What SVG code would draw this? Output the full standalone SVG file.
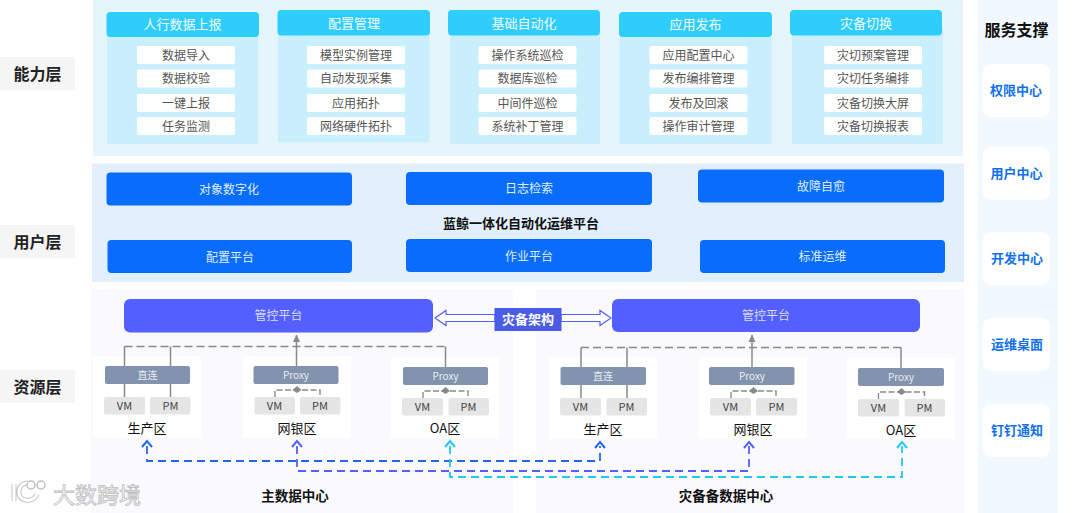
<svg xmlns="http://www.w3.org/2000/svg" width="1080" height="513" viewBox="0 0 1080 513">
<style>
text{font-family:"Noto Sans CJK SC","Noto Sans",sans-serif;text-anchor:middle;dominant-baseline:central;transform:translateY(-1px)}
.lab{fill:#f5f5f5}.labt{font-size:16px;font-weight:700;fill:#222}
.hd{fill:#2ecdfb}.hdt{font-size:13px;fill:#f4fcff}
.body{fill:#c8effb}.it{fill:#fff}.itt{font-size:12px;fill:#555}
.btn{fill:#0a6cfb}.btnt{font-size:12px;fill:#dfeeff}
.mg{fill:#5360ff}.mgt{font-size:12px;fill:#d8dcff}
.zone{fill:#fff}.bar{fill:#8193ad}.bart{font-size:10px;fill:#e8ecf2}
.vm{fill:#e5e5e5}.vmt{font-size:11px;fill:#444}.zt{font-size:13px;fill:#111}
.dc{font-size:13.5px;font-weight:700;fill:#111}
.card{fill:#fff}.ct{font-size:13px;font-weight:700;fill:#1070ee}
.g{fill:none;stroke:#8a8a8a;stroke-width:1.5}.gd{stroke-dasharray:8 4}.gs{fill:none;stroke:#8a8a8a;stroke-width:1.4;stroke-dasharray:6 2.500}
.d{fill:none;stroke-width:1.8;stroke-dasharray:8 5}
.ah{fill:none;stroke-width:2}
</style>
<defs>
<marker id="ga" markerWidth="8" markerHeight="8" refX="4" refY="0.500" orient="0" markerUnits="userSpaceOnUse"><path d="M0.500 7.500L4 0L7.500 7.500Z" fill="#8a8a8a"/></marker>
</defs>
<rect width="1080" height="513" fill="#fff"/>
<rect x="93" y="0" width="870" height="156" fill="#e4f6fc"/>
<rect x="92" y="163.500" width="872" height="118.500" fill="#e2effd"/>
<rect x="91" y="289" width="422" height="224" fill="#f9f9fe"/>
<rect x="536" y="289" width="428" height="224" fill="#f9f9fe"/>
<rect x="978" y="0" width="80" height="513" fill="#f1f8fe"/>

<g id="label-capability"><rect class="lab" x="0" y="57" width="75" height="33"/><text class="labt" x="37.500" y="73.500">能力层</text></g>
<g id="label-user"><rect class="lab" x="0" y="225" width="75" height="33"/><text class="labt" x="37.500" y="241.500">用户层</text></g>
<g id="label-resource"><rect class="lab" x="0" y="370" width="75" height="33"/><text class="labt" x="37.500" y="386.500">资源层</text></g>

<g id="col-report">
<rect class="body" x="107" y="30" width="151" height="114"/><rect class="hd" x="106.500" y="12" width="152.500" height="25" rx="4"/><text class="hdt" x="182.500" y="24.500">人行数据上报</text>
<rect class="it" x="137" y="46" width="98" height="18" rx="2"/><text class="itt" x="186" y="55">数据导入</text>
<rect class="it" x="137" y="69.500" width="98" height="18" rx="2"/><text class="itt" x="186" y="78.500">数据校验</text>
<rect class="it" x="137" y="94" width="98" height="18" rx="2"/><text class="itt" x="186" y="103">一键上报</text>
<rect class="it" x="137" y="117" width="98" height="18" rx="2"/><text class="itt" x="186" y="126">任务监测</text>
</g>
<g id="col-config">
<rect class="body" x="278" y="28" width="151.500" height="114.500"/><rect class="hd" x="277.500" y="10" width="152.500" height="25.500" rx="4"/><text class="hdt" x="354" y="23">配置管理</text>
<rect class="it" x="307" y="46" width="98" height="18" rx="2"/><text class="itt" x="356" y="55">模型实例管理</text>
<rect class="it" x="307" y="69.500" width="98" height="18" rx="2"/><text class="itt" x="356" y="78.500">自动发现采集</text>
<rect class="it" x="307" y="94" width="98" height="18" rx="2"/><text class="itt" x="356" y="103">应用拓扑</text>
<rect class="it" x="307" y="117" width="98" height="18" rx="2"/><text class="itt" x="356" y="126">网络硬件拓扑</text>
</g>
<g id="col-auto">
<rect class="body" x="450" y="28" width="150" height="116"/><rect class="hd" x="448" y="10" width="152" height="25.500" rx="4"/><text class="hdt" x="524" y="23">基础自动化</text>
<rect class="it" x="478.500" y="46" width="98" height="18" rx="2"/><text class="itt" x="527.500" y="55">操作系统巡检</text>
<rect class="it" x="478.500" y="69.500" width="98" height="18" rx="2"/><text class="itt" x="527.500" y="78.500">数据库巡检</text>
<rect class="it" x="478.500" y="94" width="98" height="18" rx="2"/><text class="itt" x="527.500" y="103">中间件巡检</text>
<rect class="it" x="478.500" y="117" width="98" height="18" rx="2"/><text class="itt" x="527.500" y="126">系统补丁管理</text>
</g>
<g id="col-release">
<rect class="body" x="619.500" y="30" width="152" height="114"/><rect class="hd" x="619" y="12" width="153" height="25" rx="4"/><text class="hdt" x="695.500" y="24.500">应用发布</text>
<rect class="it" x="649.500" y="46" width="98" height="18" rx="2"/><text class="itt" x="698.500" y="55">应用配置中心</text>
<rect class="it" x="649.500" y="69.500" width="98" height="18" rx="2"/><text class="itt" x="698.500" y="78.500">发布编排管理</text>
<rect class="it" x="649.500" y="94" width="98" height="18" rx="2"/><text class="itt" x="698.500" y="103">发布及回滚</text>
<rect class="it" x="649.500" y="117" width="98" height="18" rx="2"/><text class="itt" x="698.500" y="126">操作审计管理</text>
</g>
<g id="col-switch">
<rect class="body" x="792" y="28" width="151" height="116"/><rect class="hd" x="790" y="10" width="152" height="25.500" rx="4"/><text class="hdt" x="866" y="23">灾备切换</text>
<rect class="it" x="824" y="46" width="98" height="18" rx="2"/><text class="itt" x="873" y="55">灾切预案管理</text>
<rect class="it" x="824" y="69.500" width="98" height="18" rx="2"/><text class="itt" x="873" y="78.500">灾切任务编排</text>
<rect class="it" x="824" y="94" width="98" height="18" rx="2"/><text class="itt" x="873" y="103">灾备切换大屏</text>
<rect class="it" x="824" y="117" width="98" height="18" rx="2"/><text class="itt" x="873" y="126">灾备切换报表</text>
</g>

<g id="btn-object"><rect class="btn" x="106.500" y="172.500" width="245.500" height="33" rx="4"/><text class="btnt" x="229" y="189">对象数字化</text></g>
<g id="btn-log"><rect class="btn" x="406" y="172" width="246" height="33" rx="4"/><text class="btnt" x="529" y="188.500">日志检索</text></g>
<g id="btn-fault"><rect class="btn" x="698" y="169.500" width="246" height="33" rx="4"/><text class="btnt" x="821" y="186">故障自愈</text></g>
<g id="btn-config"><rect class="btn" x="107.500" y="240" width="244.500" height="33" rx="4"/><text class="btnt" x="230" y="257">配置平台</text></g>
<g id="btn-job"><rect class="btn" x="406" y="239" width="246" height="33" rx="4"/><text class="btnt" x="529" y="256">作业平台</text></g>
<g id="btn-sops"><rect class="btn" x="700" y="240" width="245" height="33" rx="4"/><text class="btnt" x="822.500" y="256.500">标准运维</text></g>
<g id="platform-title"><text x="521" y="223" font-size="13" font-weight="700" fill="#111">蓝鲸一体化自动化运维平台</text></g>

<g id="mgmt-main"><rect class="mg" x="124" y="299" width="309" height="33.500" rx="6"/><text class="mgt" x="278.500" y="315.500">管控平台</text></g>
<g id="mgmt-dr"><rect class="mg" x="612" y="299" width="308" height="33" rx="6"/><text class="mgt" x="766" y="315">管控平台</text></g>

<g id="zone-main-prod">
<rect class="zone" x="93" y="356" width="108" height="82"/><rect class="bar" x="105" y="366" width="85" height="18" rx="2"/><text class="bart" x="147.500" y="375">直连</text>
<rect class="vm" x="104" y="397" width="41" height="17.500" rx="2"/><text class="vmt" x="124.500" y="406">VM</text>
<rect class="vm" x="150" y="397" width="40.500" height="17.500" rx="2"/><text class="vmt" x="170.500" y="406">PM</text>
<text class="zt" x="147" y="428">生产区</text></g>
<g id="zone-main-bank">
<rect class="zone" x="243" y="356" width="108" height="82"/><rect class="bar" x="253.500" y="366" width="85" height="18" rx="2"/><text class="bart" x="296" y="375">Proxy</text>
<rect class="vm" x="254.500" y="397" width="40.500" height="17.500" rx="2"/><text class="vmt" x="274.500" y="406">VM</text>
<rect class="vm" x="300" y="397" width="40.500" height="17.500" rx="2"/><text class="vmt" x="320" y="406">PM</text>
<text class="zt" x="297" y="428">网银区</text></g>
<g id="zone-main-oa">
<rect class="zone" x="391" y="357" width="108" height="81"/><rect class="bar" x="403" y="367" width="85" height="18" rx="2"/><text class="bart" x="445.500" y="376">Proxy</text>
<rect class="vm" x="402" y="398" width="41" height="17.500" rx="2"/><text class="vmt" x="422.500" y="407">VM</text>
<rect class="vm" x="448.500" y="398" width="40.500" height="17.500" rx="2"/><text class="vmt" x="468.500" y="407">PM</text>
<text class="zt" x="445" y="428">OA区</text></g>
<g id="zone-dr-prod">
<rect class="zone" x="549" y="357" width="108" height="82"/><rect class="bar" x="560.500" y="367" width="85.500" height="18" rx="2"/><text class="bart" x="603" y="376">直连</text>
<rect class="vm" x="560" y="398" width="41" height="17.500" rx="2"/><text class="vmt" x="580.500" y="407">VM</text>
<rect class="vm" x="606.500" y="398" width="40.500" height="17.500" rx="2"/><text class="vmt" x="626.500" y="407">PM</text>
<text class="zt" x="603" y="429">生产区</text></g>
<g id="zone-dr-bank">
<rect class="zone" x="699" y="357" width="108" height="82"/><rect class="bar" x="709" y="367" width="85.500" height="18" rx="2"/><text class="bart" x="752" y="376">Proxy</text>
<rect class="vm" x="710" y="398" width="41" height="17.500" rx="2"/><text class="vmt" x="730.500" y="407">VM</text>
<rect class="vm" x="756" y="398" width="41" height="17.500" rx="2"/><text class="vmt" x="776.500" y="407">PM</text>
<text class="zt" x="753" y="429">网银区</text></g>
<g id="zone-dr-oa">
<rect class="zone" x="847" y="358" width="108" height="81"/><rect class="bar" x="858" y="368" width="86" height="18" rx="2"/><text class="bart" x="901" y="377">Proxy</text>
<rect class="vm" x="858" y="399" width="41" height="17.500" rx="2"/><text class="vmt" x="878.500" y="408">VM</text>
<rect class="vm" x="904.500" y="399" width="40.500" height="17.500" rx="2"/><text class="vmt" x="924.500" y="408">PM</text>
<text class="zt" x="901" y="430">OA区</text></g>

<g id="dc-labels"><text class="dc" x="295" y="496">主数据中心</text><text class="dc" x="726" y="496">灾备备数据中心</text></g>

<g id="connectors">
<path class="g" d="M124.500 366V346.500M170.500 366V346.500M445.500 367V346.500M124.500 384V397M170.500 384V397M581 367V347.500M627 367V347.500M901 368V347.500M581 385V398M627 385V398" />
<path class="g gd" d="M124.500 346.500H445.500M581 347.500H901"/>
<path class="g" d="M296.500 366V335" marker-end="url(#ga)"/>
<path class="g" d="M752 367V335" marker-end="url(#ga)"/>
<g id="proxy-links">
<path class="gs" d="M275 397V390H320V397M423 398V391H468V398M731 398V391H776V398M878.500 399V392H924.500V399"/>
<path d="M297 386L292.500 390L297 393L301.500 390ZM445.500 387L441 391L445.500 394L450 391ZM753.500 387L749 391L753.500 394L758 391ZM901.500 388L897 392L901.500 395L906 392Z" fill="#8a8a8a"/>
</g>
<path class="d" stroke="#2368e8" d="M147 446V461H600V446"/>
<path class="d" stroke="#5360ff" d="M297 446V471H749V446"/>
<path class="d" stroke="#22c8f2" d="M450 446V477H902V446"/>
<path class="ah" stroke="#2368e8" d="M142 447L147 441L152 447M595 448L600 442L605 448"/>
<path class="ah" stroke="#5360ff" d="M292 447L297 441L302 447M744 448L749 442L754 448"/>
<path class="ah" stroke="#22c8f2" d="M445 447L450 441L455 447M897 448L902 442L907 448"/>
<path d="M495 314.500H446V310.500L435 318L446 325.500V321.500H495ZM561 314.500H600V310.500L611 318L600 325.500V321.500H561Z" fill="#fff" stroke="#5360ff" stroke-width="1.2"/>
</g>
<g id="dr-arch"><rect x="494.500" y="308" width="67" height="23" fill="#4a5ce6"/><text x="528" y="319.500" font-size="13" font-weight="700" fill="#fff">灾备架构</text></g>

<g id="svc-title"><text x="1016.500" y="30" font-size="16" font-weight="700" fill="#111">服务支撑</text></g>
<g id="svc-auth"><rect class="card" x="983" y="64" width="67" height="53" rx="8"/><text class="ct" x="1016" y="90.500">权限中心</text></g>
<g id="svc-user"><rect class="card" x="983" y="147" width="67" height="53" rx="8"/><text class="ct" x="1016.500" y="173">用户中心</text></g>
<g id="svc-dev"><rect class="card" x="983" y="232" width="67" height="53" rx="8"/><text class="ct" x="1017" y="258.500">开发中心</text></g>
<g id="svc-ops"><rect class="card" x="983" y="318" width="67" height="53" rx="8"/><text class="ct" x="1017" y="344">运维桌面</text></g>
<g id="svc-ding"><rect class="card" x="983" y="404" width="67" height="53" rx="8"/><text class="ct" x="1017" y="430">钉钉通知</text></g>

<g id="watermark">
<path d="M14 484V501M28 483C16 482 15 503 30 500C34 499 36 497 37 494" fill="none" stroke="#c4c4c4" stroke-width="5"/>
<path d="M14 484V501M28 483C16 482 15 503 30 500C34 499 36 497 37 494" fill="none" stroke="#fff" stroke-width="3"/>
<circle cx="31" cy="485" r="4" fill="#fff" stroke="#c0c0c0" stroke-width="1.500"/><circle cx="41" cy="485" r="4" fill="#fff" stroke="#c0c0c0" stroke-width="1.500"/>
<text x="97" y="494" font-size="22" fill="#fff" stroke="#bdbdbd" stroke-width="0.800">大数跨境</text>
</g>
</svg>
